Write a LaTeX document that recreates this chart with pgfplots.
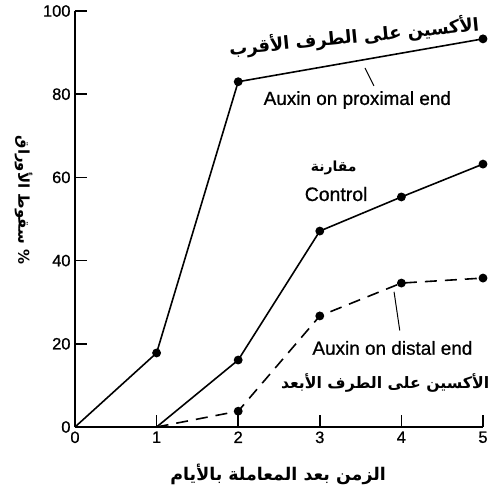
\documentclass[border=0pt]{standalone}
\usepackage{fontspec}
\setmainfont{Liberation Sans}
\newfontfamily\labfont[FakeBold=0.8]{Liberation Sans}
\newfontfamily\arabicfont[Script=Arabic]{DejaVu Sans}
\TeXXeTstate=1
\usepackage{pgfplots}
\pgfplotsset{compat=1.18}
\begin{document}
\begin{tikzpicture}
\begin{axis}[
  at={(0,0)}, anchor=south west,
  scale only axis, width=408bp, height=416bp,
  xmin=0, xmax=5, ymin=0, ymax=100,
  axis lines=left,
  axis line style={-, line width=1.6pt},
  clip=false,
  xtick={0,1,2,3,4,5},
  ytick={0,20,40,60,80,100},
  tick align=inside,
  major tick length=12bp,
  tick style={line width=1.6pt, black},
  tick label style={font=\labfont\fontsize{16.5}{17}\selectfont},
  /pgf/number format/assume math mode=true,
  xticklabel style={yshift=-1bp},
  yticklabel style={xshift=-1bp},
]
\addplot[black, line width=1.6pt, mark=*, mark size=3.6pt, mark indices={2,3,4}]
  coordinates {(0,0) (1,17.8) (2,83.0) (5,93.3)};
\addplot[black, line width=1.6pt, mark=*, mark size=3.6pt, mark indices={2,3,4,5}]
  coordinates {(1,0) (2,16.1) (3,47.1) (4,55.3) (5,63.2)};
\addplot[black, line width=1.6pt, dash pattern=on 12bp off 8bp, mark=*, mark size=3.6pt, mark indices={2,3,4,5}, every mark/.append style={solid}]
  coordinates {(1,0) (2,3.8) (3,26.7) (4,34.6) (5,35.8)};

\node[rotate=5.5, font=\arabicfont\bfseries\fontsize{18}{20}\selectfont] at (axis cs:3.42,93.8) {\beginR الأكسين على الطرف الأقرب\endR};
\node[font=\labfont\fontsize{19}{21}\selectfont] at (axis cs:3.46,78.6) {Auxin on proximal end};
\draw[line width=1pt] (axis cs:3.554,86.3) -- (axis cs:3.664,82.0);
\node[font=\arabicfont\bfseries\fontsize{14}{16}\selectfont] at (axis cs:3.17,62.3) {\beginR مقارنة\endR};
\node[font=\labfont\fontsize{19.5}{21}\selectfont] at (axis cs:3.20,56.0) {Control};
\node[font=\labfont\fontsize{19}{21}\selectfont] at (axis cs:3.89,19.0) {Auxin on distal end};
\draw[line width=1pt] (axis cs:3.91,32.5) -- (axis cs:3.98,23.2);
\node[font=\arabicfont\bfseries\fontsize{15.8}{18}\selectfont] at (axis cs:3.80,10.6) {\beginR الأكسين على الطرف الأبعد\endR};
\node[font=\arabicfont\bfseries\fontsize{17.5}{19}\selectfont] at (axis cs:2.49,-11.3) {\beginR الزمن بعد المعاملة بالأيام\endR};
\node[rotate=-90, font=\arabicfont\bfseries\fontsize{15}{17}\selectfont] at (axis cs:-0.63,54.6) {\beginR \% سقوط الأوراق\endR};
\end{axis}
\pgfresetboundingbox
\path (-75bp,-65bp) rectangle (419bp,427bp);
\end{tikzpicture}
\end{document}
